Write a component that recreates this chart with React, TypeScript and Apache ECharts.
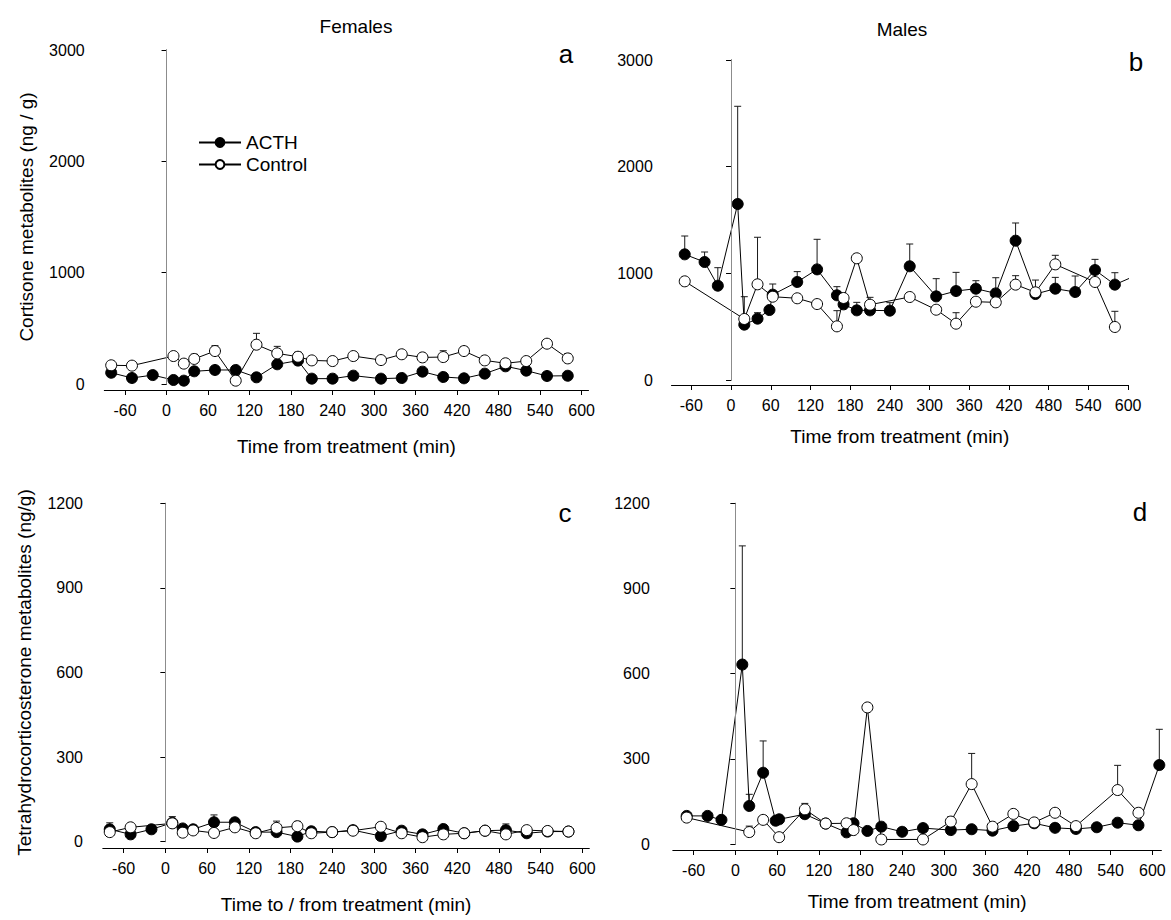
import React, { useEffect, useRef } from "react";
import * as echarts from "echarts";

const FONT = '"Liberation Sans", Arial, Helvetica, sans-serif';

const xTicks = [-60, 0, 60, 120, 180, 240, 300, 360, 420, 480, 540, 600];

// Panel a: Females, cortisone metabolites (ng / g)
const aActhTime = [-80, -50, -20, 10, 25, 40, 70, 100, 130, 160, 190, 210, 240, 270, 310, 340, 370, 400, 430, 460, 490, 520, 550, 580];
const aActhVal = [101, 54, 80, 36, 30, 114, 126, 126, 60, 177, 210, 48, 48, 75, 48, 54, 111, 63, 51, 93, 159, 120, 72, 74];
const aActhErr: number[][] = [];
const aCtrlTime = [-80, -50, 10, 25, 40, 70, 100, 130, 160, 190, 210, 240, 270, 310, 340, 370, 400, 430, 460, 490, 520, 550, 580];
const aCtrlVal = [168, 165, 251, 183, 225, 296, 30, 353, 275, 245, 212, 206, 251, 215, 267, 239, 242, 296, 212, 186, 206, 362, 230];
const aCtrlErr = [[40, 267], [70, 344], [130, 455], [160, 338], [190, 287], [370, 275], [400, 299], [430, 335], [580, 272]];

// Panel b: Males, cortisone metabolites
const bActhTime = [-70, -40, -20, 10, 20, 40, 58, 63, 100, 130, 160, 170, 190, 210, 240, 270, 310, 340, 370, 400, 430, 460, 490, 520, 550, 580, 610];
const bActhVal = [1178, 1106, 884, 1650, 519, 575, 656, 800, 919, 1037, 794, 709, 653, 653, 650, 1066, 784, 834, 856, 812, 1306, 806, 856, 825, 1031, 894, 975];
const bActhErr = [[-70, 1350], [-40, 1200], [-20, 1053], [10, 2566], [20, 781], [40, 631], [63, 900], [100, 1016], [130, 1319], [160, 875], [190, 728], [210, 775], [240, 725], [270, 1275], [310, 950], [340, 1009], [370, 931], [400, 959], [430, 1472], [460, 937], [490, 962], [520, 975], [550, 1131], [580, 1006]];
const bCtrlTime = [-70, 20, 40, 63, 100, 130, 160, 170, 190, 210, 270, 310, 340, 370, 400, 430, 460, 490, 550, 580];
const bCtrlVal = [925, 572, 897, 781, 766, 712, 503, 769, 1141, 706, 778, 659, 528, 734, 728, 894, 822, 1084, 919, 497];
const bCtrlErr = [[40, 1338], [160, 650], [340, 631], [430, 978], [490, 1169], [580, 644]];

// Panel c: Females, tetrahydrocorticosterone metabolites (ng/g)
const cActhTime = [-80, -50, -20, 10, 25, 40, 70, 100, 130, 160, 190, 210, 240, 270, 310, 340, 370, 400, 430, 460, 490, 520, 550, 580];
const cActhVal = [44, 26, 44, 67, 47, 44, 69, 69, 34, 34, 18, 37, 34, 41, 20, 39, 26, 45, 30, 39, 41, 30, 36, 36];
const cActhErr = [[-80, 67], [70, 95], [400, 55], [490, 63]];
const cCtrlTime = [-80, -50, 10, 25, 40, 70, 100, 130, 160, 190, 210, 240, 270, 310, 340, 370, 400, 430, 460, 490, 520, 550, 580];
const cCtrlVal = [34, 51, 65, 32, 40, 31, 51, 30, 49, 55, 30, 34, 39, 53, 30, 16, 26, 30, 39, 26, 41, 38, 36];
const cCtrlErr = [[10, 89], [160, 73], [190, 72]];

// Panel d: Males, tetrahydrocorticosterone metabolites
const dActhTime = [-70, -40, -20, 10, 20, 40, 58, 63, 100, 130, 160, 170, 190, 210, 240, 270, 310, 340, 370, 400, 430, 460, 490, 520, 550, 580, 610];
const dActhVal = [99, 99, 85, 632, 134, 251, 82, 87, 105, 72, 41, 73, 46, 61, 43, 56, 49, 52, 47, 63, 73, 57, 53, 59, 75, 66, 278];
const dActhErr = [[10, 1050], [20, 175], [40, 363], [610, 404]];
const dCtrlTime = [-70, 20, 40, 63, 100, 130, 160, 170, 190, 210, 270, 310, 340, 370, 400, 430, 460, 490, 550, 580];
const dCtrlVal = [93, 42, 85, 24, 122, 72, 73, 49, 481, 16, 16, 79, 211, 61, 106, 76, 110, 63, 190, 110];
const dCtrlErr = [[20, 63], [40, 100], [100, 143], [310, 96], [340, 319], [550, 277]];

function zip(t: number[], v: number[]) {
  return t.map((x, i) => [x, v[i]]);
}
function errData(t: number[], v: number[], e: number[][]) {
  return e.map(([x, top]) => [x, v[t.indexOf(x)], top]);
}

const panels = [
  {
    grid: { left: 104.3, top: 50, width: 484.2, height: 334 },
    xMin: -90, xMax: 610, yMax: 3000, yInt: 1000, yOff: 7.6, xOff: 6,
    xName: "Time from treatment (min)", xGap: 47, yName: "Cortisone metabolites (ng / g)",
    acth: [aActhTime, aActhVal, aActhErr], ctrl: [aCtrlTime, aCtrlVal, aCtrlErr], clip: true,
  },
  {
    grid: { left: 671.5, top: 60, width: 456.6, height: 320 },
    xMin: -90, xMax: 600, yMax: 3000, yInt: 1000, yOff: 6.7, xOff: 5,
    xName: "Time from treatment (min)", xGap: 42, yName: "",
    acth: [bActhTime, bActhVal, bActhErr], ctrl: [bCtrlTime, bCtrlVal, bCtrlErr], clip: true,
  },
  {
    grid: { left: 102.8, top: 503.3, width: 486.5, height: 338.4 },
    xMin: -90, xMax: 610, yMax: 1200, yInt: 300, yOff: 7.8, xOff: 6.3,
    xName: "Time to / from treatment (min)", xGap: 47, yName: "Tetrahydrocorticosterone metabolites (ng/g)",
    acth: [cActhTime, cActhVal, cActhErr], ctrl: [cCtrlTime, cCtrlVal, cCtrlErr], clip: true,
  },
  {
    grid: { left: 672.8, top: 503.3, width: 488.6, height: 340.7 },
    xMin: -90, xMax: 613, yMax: 1200, yInt: 300, yOff: 11, xOff: 6,
    xName: "Time from treatment (min)", xGap: 42, yName: "",
    acth: [dActhTime, dActhVal, dActhErr], ctrl: [dCtrlTime, dCtrlVal, dCtrlErr], clip: false,
  },
];

const renderErr = (params: any, api: any) => {
  const x = api.value(0);
  const y = api.value(1);
  const top = api.value(2);
  const p0 = api.coord([x, y]);
  const p1 = api.coord([x, top]);
  const st = { stroke: "#1a1a1a", lineWidth: 1 };
  return {
    type: "group",
    children: [
      { type: "line", shape: { x1: p0[0], y1: p0[1], x2: p1[0], y2: p1[1] }, style: st },
      { type: "line", shape: { x1: p1[0] - 3.5, y1: p1[1], x2: p1[0] + 3.5, y2: p1[1] }, style: st },
    ],
  };
};

function buildOption() {
  const grids: any[] = [];
  const xAxes: any[] = [];
  const yAxes: any[] = [];
  const series: any[] = [];
  panels.forEach((p, i) => {
    grids.push({ ...p.grid, containLabel: false });
    xAxes.push({
      type: "value",
      gridIndex: i,
      min: p.xMin,
      max: p.xMax,
      offset: p.xOff,
      name: p.xName,
      nameLocation: "middle",
      nameGap: p.xGap,
      nameTextStyle: { fontFamily: FONT, fontSize: 19, color: "#000" },
      axisLine: { show: true, onZero: false, lineStyle: { color: "#000", width: 1 } },
      axisTick: { show: true, length: 5, customValues: xTicks, lineStyle: { color: "#000" } },
      axisLabel: { customValues: xTicks, fontFamily: FONT, fontSize: 16, color: "#000", margin: 12 },
      splitLine: { show: false },
    });
    yAxes.push({
      type: "value",
      gridIndex: i,
      min: 0,
      max: p.yMax,
      interval: p.yInt,
      offset: p.yOff,
      name: p.yName,
      nameLocation: "middle",
      nameRotate: 90,
      nameGap: 61,
      nameTextStyle: { fontFamily: FONT, fontSize: 19, color: "#000" },
      axisLine: { show: true, lineStyle: { color: "#000", width: 1 } },
      axisTick: { show: true, length: 5, lineStyle: { color: "#000" } },
      axisLabel: {
        fontFamily: FONT,
        fontSize: 16,
        color: "#000",
        margin: 12,
        formatter: (v: number) => String(v),
      },
      splitLine: { show: false },
    });
    const [at, av, ae] = p.acth as any;
    const [ct, cv, ce] = p.ctrl as any;
    series.push({
      type: "custom",
      xAxisIndex: i,
      yAxisIndex: i,
      renderItem: renderErr,
      encode: { x: 0, y: [1, 2] },
      data: errData(at, av, ae),
      z: 1,
      silent: true,
    });
    series.push({
      type: "custom",
      xAxisIndex: i,
      yAxisIndex: i,
      renderItem: renderErr,
      encode: { x: 0, y: [1, 2] },
      data: errData(ct, cv, ce),
      z: 1,
      silent: true,
    });
    series.push({
      type: "line",
      name: "ACTH",
      xAxisIndex: i,
      yAxisIndex: i,
      data: zip(at, av),
      symbol: "circle",
      symbolSize: 11,
      clip: p.clip,
      itemStyle: { color: "#000", borderColor: "#000", borderWidth: 1 },
      lineStyle: { color: "#000", width: 1 },
      emphasis: { disabled: true },
      z: 3,
      markLine: {
        silent: true,
        symbol: ["none", "none"],
        label: { show: false },
        lineStyle: { color: "#8c8c8c", width: 1, type: "solid" },
        emphasis: { disabled: true },
        data: [{ xAxis: 0 }],
      },
    });
    series.push({
      type: "line",
      name: "Control",
      xAxisIndex: i,
      yAxisIndex: i,
      data: zip(ct, cv),
      symbol: "circle",
      symbolSize: 11,
      clip: p.clip,
      itemStyle: { color: "#fff", borderColor: "#000", borderWidth: 1 },
      lineStyle: { color: "#000", width: 1 },
      emphasis: { disabled: true },
      z: 4,
    });
  });

  const txt = (text: string, x: number, y: number, size: number) => ({
    type: "text",
    x,
    y,
    silent: true,
    style: {
      text,
      fill: "#000",
      font: `${size}px ${FONT}`,
      textAlign: "center",
      textVerticalAlign: "middle",
      align: "center",
      verticalAlign: "middle",
    },
  });

  return {
    animation: false,
    backgroundColor: "#fff",
    grid: grids,
    xAxis: xAxes,
    yAxis: yAxes,
    series,
    legend: {
      data: ["ACTH", "Control"],
      orient: "vertical",
      left: 193,
      top: 128,
      itemWidth: 42,
      itemHeight: 11,
      itemGap: 3,
      selectedMode: false,
      textStyle: { fontFamily: FONT, fontSize: 19, color: "#000" },
    },
    graphic: [
      txt("Females", 356, 26, 19),
      txt("Males", 902, 29, 19),
      txt("a", 566, 54, 26),
      txt("b", 1136, 62, 26),
      txt("c", 565, 513, 26),
      txt("d", 1140, 512, 26),
    ],
  };
}

export default function App() {
  const ref = useRef<HTMLDivElement>(null);
  useEffect(() => {
    document.body.style.margin = "0";
    if (!ref.current) return;
    const chart = echarts.init(ref.current, undefined, { renderer: "svg" });
    chart.setOption(buildOption() as any);
    return () => chart.dispose();
  }, []);
  return <div ref={ref} style={{ width: 1171, height: 920 }} />;
}
